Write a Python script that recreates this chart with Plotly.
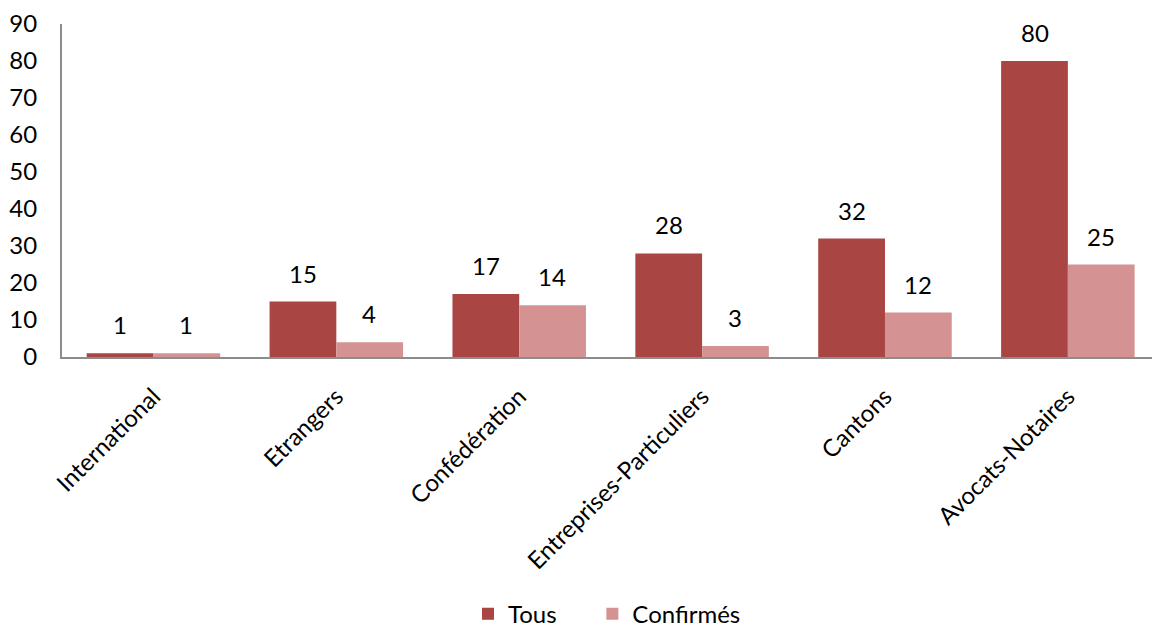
import plotly.graph_objects as go

categories = ["International", "Etrangers", "Confédération",
              "Entreprises-Particuliers", "Cantons", "Avocats-Notaires"]
tous = [1, 15, 17, 28, 32, 80]
confirmes = [1, 4, 14, 3, 12, 25]
y_ticks = [0, 10, 20, 30, 40, 50, 60, 70, 80, 90]

FONT = "Lato, Carlito, Calibri, sans-serif"
SIZE = 24
DARK = "#A94543"
LIGHT = "#D49392"
PAD = "\u00a0" * 5  # extra room between legend entries

fig = go.Figure()
fig.add_trace(go.Bar(name="Tous" + PAD, x=categories, y=tous, marker_color=DARK,
                     marker_line_width=0))
fig.add_trace(go.Bar(name="Confirmés", x=categories, y=confirmes, marker_color=LIGHT,
                     marker_line_width=0))

# value labels above each bar
for series, shift in ((tous, -33), (confirmes, 33)):
    for cat, val in zip(categories, series):
        fig.add_annotation(x=cat, y=val, text=str(val), showarrow=False,
                           xshift=shift, yshift=12, yanchor="bottom",
                           font=dict(family=FONT, size=SIZE, color="#000"))

fig.update_layout(
    width=1153, height=628,
    margin=dict(l=62, r=1, t=24, b=271, autoexpand=False),
    paper_bgcolor="white", plot_bgcolor="white",
    barmode="group", bargap=0.27, bargroupgap=0,
    font=dict(family=FONT, size=SIZE, color="#000"),
    showlegend=True,
    legend=dict(orientation="h", x=0.5, xanchor="center", y=-0.84, yanchor="bottom",
                yref="paper", font=dict(family=FONT, size=SIZE), itemwidth=30,
                traceorder="normal"),
    xaxis=dict(tickangle=-45, showline=True, linecolor="#8C8C8C", linewidth=2,
               ticks="", showgrid=False, range=[-0.5, 5.46], automargin=False,
               tickfont=dict(family=FONT, size=SIZE), ticklabelstandoff=14),
    yaxis=dict(range=[0, 90], tickvals=y_ticks, showline=True, linecolor="#8C8C8C",
               linewidth=2, ticks="", showgrid=False, zeroline=False, automargin=False,
               tickfont=dict(family=FONT, size=SIZE), ticklabelstandoff=18),
)

fig.write_html("out.html")
